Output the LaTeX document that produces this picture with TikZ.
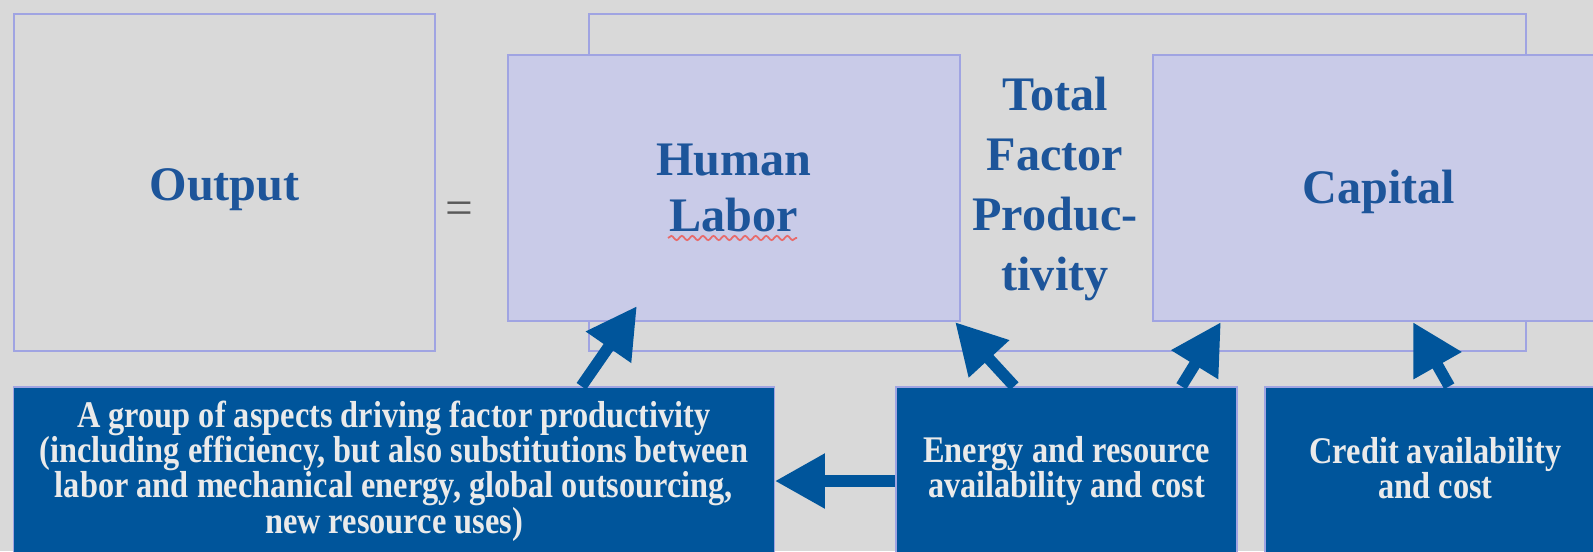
\documentclass[tikz,border=0pt]{standalone}
\usepackage{fontspec}
\setmainfont{Liberation Serif}
\newfontfamily\narrowserif[FakeStretch=0.86]{Liberation Serif}
\usetikzlibrary{arrows.meta,decorations.pathmorphing}
\definecolor{bggray}{HTML}{D9D9D9}
\definecolor{boxlilac}{HTML}{C9CBE8}
\definecolor{framelilac}{HTML}{A0A4E2}
\definecolor{titleblue}{HTML}{1D559A}
\definecolor{driverblue}{HTML}{00559B}
\definecolor{drivertext}{HTML}{EAEAEA}
\definecolor{squigglered}{HTML}{E86A6A}
\begin{document}
\begin{tikzpicture}[x=0.01cm,y=-0.01cm,
    frame/.style={draw=framelilac,line width=0.6pt,inner sep=0pt},
    title/.style={text=titleblue,font=\fontsize{13.7}{16}\selectfont\bfseries,align=center},
    factor/.style={frame,title,fill=boxlilac,minimum width=4.52cm,minimum height=2.66cm},
    drivertxt/.style={text=drivertext,font=\narrowserif\fontsize{10.7}{10}\selectfont\bfseries,align=center},
    driver/.style={fill=driverblue,draw=framelilac,line width=0.4pt,inner sep=0pt,drivertxt,
      minimum height=1.68cm},
    push/.style={draw=driverblue,line width=3.3pt,-{Triangle[length=0.5cm,width=0.52cm]}}]
  \useasboundingbox (0,0) rectangle (1593,551);
  \clip (0,0) rectangle (1593,551);
  \fill[bggray] (0,0) rectangle (1593,551);
  % upper row
  \node[frame,minimum width=4.21cm,minimum height=3.37cm] at (224.5,182.5) (output) {};
  \node[title] at (224.5,190) (outputtxt) {Output};
  \node[text=black!65,font=\fontsize{14}{16}\selectfont] at (459,213) (equals) {=};
  \node[frame,minimum width=9.37cm,minimum height=3.37cm] at (1057.5,182.5) (tfpframe) {};
  \node[factor] at (734,188) (labor) {Human\\Labor};
  \node[factor] at (1379,188) (capital) {};
  \node[title] at (1379,192) (capitaltxt) {Capital};
  \node[title,font=\fontsize{13.7}{17}\selectfont\bfseries] at (1055,189) (tfp) {Total\\Factor\\Produc-\\tivity};
  \draw[squigglered,line width=0.5pt,decorate,decoration={snake,amplitude=0.6pt,segment length=3pt}]
    (668,238) -- (797,238);
  % lower row
  \node[driver,minimum width=7.60cm] at (394,471) (grp) {A group of aspects driving factor productivity\\(including efficiency, but also substitutions between\\labor and mechanical energy, global outsourcing,\\new resource uses)};
  \node[driver,minimum width=3.41cm] at (1066.5,471) (energy) {Energy and resource\\availability and cost};
  \node[driver,minimum width=3.41cm] at (1435.5,471) (credit) {};
  \node[drivertxt] at (1435.5,468) (credittxt) {Credit availability\\and cost};
  % arrows
  \draw[push] ([xshift=5.68cm]grp.north west) -- ([xshift=1.3cm,yshift=0.16cm]labor.south west);
  \draw[push] ([xshift=1.19cm]energy.north west) -- ([xshift=-0.06cm]labor.south east);
  \draw[push] ([xshift=2.86cm]energy.north west) -- ([xshift=0.69cm]capital.south west);
  \draw[push] ([xshift=1.85cm]credit.north west) -- ([xshift=2.61cm]capital.south west);
  \draw[push] ([yshift=-0.1cm]energy.west) -- ([yshift=-0.1cm]grp.east);
\end{tikzpicture}
\end{document}
